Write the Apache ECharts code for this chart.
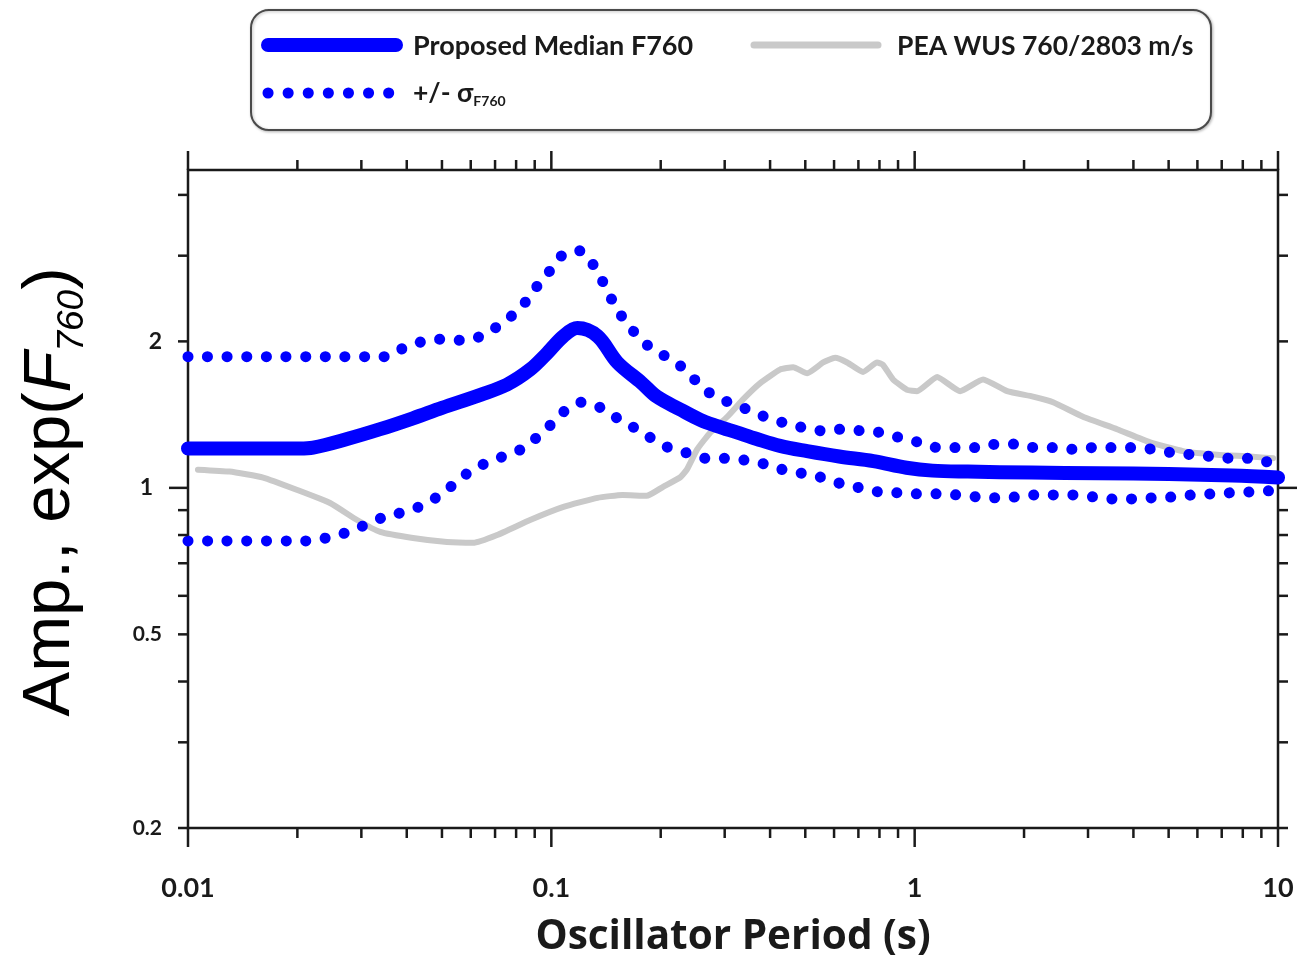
<!DOCTYPE html>
<html>
<head>
<meta charset="utf-8">
<script src="https://cdn.jsdelivr.net/npm/echarts@6/dist/echarts.min.js"></script>
<style>
  html, body { margin: 0; padding: 0; background: #ffffff; }
  #chart { width: 1299px; height: 963px; }
</style>
</head>
<body>
<div id="chart"></div>
<script>
// Oscillator periods (s) and amplitudes, exp(F760)
const periodMedian = [0.01, 0.0148, 0.0203, 0.0221, 0.0274, 0.0338, 0.0416, 0.05, 0.0641, 0.0755, 0.0874, 0.0973, 0.108, 0.118, 0.134, 0.152, 0.177, 0.195, 0.226, 0.257, 0.286, 0.324, 0.368, 0.426, 0.506, 0.62, 0.77, 0.95, 1.12, 1.4, 2.1, 3.2, 5.0, 7.5, 10];
const ampMedian    = [1.205, 1.205, 1.205, 1.21, 1.26, 1.32, 1.39, 1.46, 1.555, 1.63, 1.75, 1.89, 2.05, 2.13, 2.05, 1.81, 1.645, 1.54, 1.45, 1.38, 1.34, 1.30, 1.26, 1.22, 1.19, 1.16, 1.135, 1.10, 1.085, 1.08, 1.075, 1.072, 1.068, 1.06, 1.05];

const periodUpper = [0.01, 0.0349, 0.0393, 0.0444, 0.05, 0.0568, 0.0641, 0.0713, 0.0785, 0.0857, 0.0925, 0.0998, 0.108, 0.12, 0.131, 0.139, 0.147, 0.157, 0.170, 0.186, 0.207, 0.229, 0.252, 0.275, 0.307, 0.346, 0.387, 0.437, 0.493, 0.556, 0.631, 0.712, 0.803, 0.906, 1.028, 1.16, 1.309, 1.485, 1.686, 1.902, 2.145, 2.419, 2.747, 3.117, 3.516, 3.991, 4.532, 5.143, 5.801, 6.585, 7.429, 8.38, 9.512, 10];
const ampUpper    = [1.86, 1.86, 1.94, 2.00, 2.02, 2.01, 2.05, 2.15, 2.27, 2.43, 2.63, 2.81, 3.02, 3.07, 2.86, 2.64, 2.43, 2.24, 2.08, 1.95, 1.86, 1.77, 1.65, 1.56, 1.50, 1.45, 1.40, 1.36, 1.33, 1.31, 1.32, 1.31, 1.30, 1.27, 1.24, 1.21, 1.21, 1.21, 1.23, 1.23, 1.21, 1.21, 1.20, 1.21, 1.21, 1.21, 1.20, 1.18, 1.17, 1.16, 1.15, 1.15, 1.13, 1.13];

const periodLower = [0.01, 0.0213, 0.024, 0.0271, 0.0303, 0.0342, 0.0383, 0.0432, 0.0485, 0.0536, 0.0586, 0.0653, 0.0736, 0.0825, 0.0913, 0.0998, 0.109, 0.1215, 0.137, 0.152, 0.169, 0.187, 0.210, 0.236, 0.267, 0.301, 0.341, 0.385, 0.434, 0.493, 0.556, 0.627, 0.707, 0.798, 0.900, 1.015, 1.16, 1.309, 1.485, 1.675, 1.902, 2.145, 2.419, 2.747, 3.117, 3.516, 3.991, 4.532, 5.143, 5.801, 6.585, 7.429, 8.38, 9.512, 10];
const ampLower    = [0.778, 0.778, 0.789, 0.808, 0.835, 0.868, 0.888, 0.914, 0.958, 1.014, 1.07, 1.12, 1.16, 1.20, 1.27, 1.35, 1.44, 1.50, 1.46, 1.39, 1.33, 1.27, 1.21, 1.18, 1.15, 1.15, 1.14, 1.12, 1.09, 1.07, 1.05, 1.02, 1.00, 0.981, 0.977, 0.972, 0.972, 0.967, 0.958, 0.954, 0.958, 0.967, 0.967, 0.967, 0.958, 0.949, 0.949, 0.954, 0.958, 0.967, 0.972, 0.977, 0.981, 0.986, 0.986];

const periodPEA = [0.01065, 0.013, 0.0161, 0.020, 0.0246, 0.0292, 0.0338, 0.0416, 0.0516, 0.0609, 0.0709, 0.0874, 0.108, 0.134, 0.157, 0.183, 0.203, 0.226, 0.236, 0.252, 0.274, 0.305, 0.337, 0.375, 0.426, 0.463, 0.506, 0.560, 0.604, 0.652, 0.721, 0.788, 0.818, 0.872, 0.953, 1.015, 1.153, 1.334, 1.543, 1.796, 2.118, 2.404, 2.907, 3.606, 4.446, 5.481, 6.798, 8.38, 9.694];
const ampPEA    = [1.09, 1.08, 1.05, 0.99, 0.931, 0.859, 0.812, 0.789, 0.774, 0.771, 0.800, 0.859, 0.914, 0.954, 0.967, 0.963, 1.005, 1.05, 1.09, 1.20, 1.30, 1.40, 1.52, 1.64, 1.75, 1.77, 1.72, 1.81, 1.85, 1.81, 1.73, 1.81, 1.79, 1.67, 1.59, 1.58, 1.69, 1.58, 1.67, 1.58, 1.54, 1.50, 1.40, 1.32, 1.24, 1.19, 1.17, 1.16, 1.15];

// Axis ticks and labels
const xTickValues = [0.01, 0.02, 0.03, 0.04, 0.05, 0.06, 0.07, 0.08, 0.09, 0.1, 0.2, 0.3, 0.4, 0.5, 0.6, 0.7, 0.8, 0.9, 1, 2, 3, 4, 5, 6, 7, 8, 9, 10];
const xMajorValues = [0.01, 0.1, 1, 10];
const xLabelValues = ['0.01', '0.1', '1', '10'];
const yTickValues = [0.2, 0.3, 0.4, 0.5, 0.6, 0.7, 0.8, 0.9, 1, 2, 3, 4];
const yMajorValues = [1];
const yLabelValues = ['0.2', '0.5', '1', '2'];

const X_MIN = 0.01, X_MAX = 10, Y_MIN = 0.2, Y_MAX = 4.5;

const BLUE = '#0000ff';
const GREY = '#c9c9c9';
const INK = '#1a1a1a';
const LABEL_FONT = 'Lato, "Open Sans", sans-serif';
const TITLE_FONT = '"Liberation Sans", Arial, sans-serif';

const zip = (xs, ys) => xs.map((x, i) => [x, ys[i]]);
const tickStyle = { stroke: INK, lineWidth: 2.5 };

// Text measuring, used to place subscripts right after their base text
const measureCtx = document.createElement('canvas').getContext('2d');
function textWidth(str, font) {
  measureCtx.font = font;
  return measureCtx.measureText(str).width;
}

// Lay out a run of text pieces (with their own fonts and baseline drops) left to right
function textRun(pieces, startX, y, fill) {
  let x = startX;
  return pieces.map(p => {
    const el = {
      type: 'text', x: x, y: y + (p.dy || 0),
      style: { text: p.text, font: p.font, fill: fill, align: 'left', verticalAlign: 'middle' }
    };
    x += textWidth(p.text, p.font);
    return el;
  });
}
function runWidth(pieces) {
  return pieces.reduce((s, p) => s + textWidth(p.text, p.font), 0);
}

// Y-axis title: Amp., exp(F_760)
const yTitlePieces = [
  { text: 'Amp., exp(', font: '67px ' + TITLE_FONT },
  { text: 'F', font: 'italic 67px ' + TITLE_FONT },
  { text: '760', font: 'italic 37px ' + TITLE_FONT, dy: 22 },
  { text: ')', font: '67px ' + TITLE_FONT }
];
const yTitleWidth = runWidth(yTitlePieces);

// Legend sigma entry: +/- σ_F760
const sigmaPieces = [
  { text: '+/- σ', font: 'bold 26.5px ' + LABEL_FONT },
  { text: 'F760', font: 'bold 14px ' + LABEL_FONT, dy: 8 }
];

const chart = echarts.init(document.getElementById('chart'), null, { renderer: 'canvas' });

const option = {
  animation: false,
  backgroundColor: '#ffffff',
  grid: {
    left: 188, top: 170, width: 1090, height: 658,
    show: true, borderColor: INK, borderWidth: 2.5, backgroundColor: 'transparent'
  },
  xAxis: {
    type: 'log', logBase: 10, min: X_MIN, max: X_MAX,
    axisLine: { show: false }, axisTick: { show: false },
    axisLabel: { show: false }, splitLine: { show: false }
  },
  yAxis: {
    type: 'log', logBase: 10, min: Y_MIN, max: Y_MAX,
    axisLine: { show: false }, axisTick: { show: false },
    axisLabel: { show: false }, splitLine: { show: false }
  },
  series: [
    {
      name: 'PEA WUS 760/2803 m/s', type: 'line', data: zip(periodPEA, ampPEA),
      showSymbol: false, smooth: 0.15, clip: false, z: 2,
      lineStyle: { color: GREY, width: 6, cap: 'round', join: 'round' }
    },
    {
      name: '+σ', type: 'line', data: zip(periodUpper, ampUpper),
      showSymbol: false, smooth: 0.3, clip: false, z: 3,
      lineStyle: { color: BLUE, width: 11, type: [0.1, 19.5], cap: 'round' }
    },
    {
      name: '-σ', type: 'line', data: zip(periodLower, ampLower),
      showSymbol: false, smooth: 0.3, clip: false, z: 3,
      lineStyle: { color: BLUE, width: 11, type: [0.1, 19.5], cap: 'round' }
    },
    {
      name: 'Proposed Median F760', type: 'line', data: zip(periodMedian, ampMedian),
      showSymbol: false, smooth: 0.35, clip: false, z: 4,
      lineStyle: { color: BLUE, width: 14, cap: 'round', join: 'round' }
    },
    // x ticks on bottom and top edges
    {
      type: 'custom', silent: true, clip: false, z: 6,
      data: xTickValues.map(v => [v, Y_MIN]),
      renderItem: function (params, api) {
        const v = api.value(0);
        const len = xMajorValues.indexOf(v) >= 0 ? 19 : 10;
        const b = api.coord([v, Y_MIN]);
        const t = api.coord([v, Y_MAX]);
        return {
          type: 'group', children: [
            { type: 'line', shape: { x1: b[0], y1: b[1], x2: b[0], y2: b[1] + len }, style: tickStyle },
            { type: 'line', shape: { x1: t[0], y1: t[1], x2: t[0], y2: t[1] - len }, style: tickStyle }
          ]
        };
      }
    },
    // y ticks on left and right edges
    {
      type: 'custom', silent: true, clip: false, z: 6,
      data: yTickValues.map(v => [X_MIN, v]),
      renderItem: function (params, api) {
        const v = api.value(1);
        const len = yMajorValues.indexOf(v) >= 0 ? 19 : 10;
        const l = api.coord([X_MIN, v]);
        const r = api.coord([X_MAX, v]);
        return {
          type: 'group', children: [
            { type: 'line', shape: { x1: l[0], y1: l[1], x2: l[0] - len, y2: l[1] }, style: tickStyle },
            { type: 'line', shape: { x1: r[0], y1: r[1], x2: r[0] + len, y2: r[1] }, style: tickStyle }
          ]
        };
      }
    },
    // x tick labels
    {
      type: 'custom', silent: true, clip: false, z: 6,
      data: xLabelValues.map(s => [Number(s), Y_MIN]),
      renderItem: function (params, api) {
        const p = api.coord([api.value(0), Y_MIN]);
        return {
          type: 'text', x: p[0], y: p[1] + 60,
          style: {
            text: xLabelValues[params.dataIndex], fill: INK,
            font: 'bold 27px ' + LABEL_FONT, align: 'center', verticalAlign: 'middle'
          }
        };
      }
    },
    // y tick labels
    {
      type: 'custom', silent: true, clip: false, z: 6,
      data: yLabelValues.map(s => [X_MIN, Number(s)]),
      renderItem: function (params, api) {
        const v = api.value(1);
        const p = api.coord([X_MIN, v]);
        const len = yMajorValues.indexOf(v) >= 0 ? 19 : 10;
        const size = v >= 1 ? 23 : 21;
        return {
          type: 'text', x: p[0] - len - 16, y: p[1],
          style: {
            text: yLabelValues[params.dataIndex], fill: INK,
            font: 'bold ' + size + 'px ' + LABEL_FONT, align: 'right', verticalAlign: 'middle'
          }
        };
      }
    }
  ],
  graphic: [
    // axis titles
    {
      type: 'text', x: 733, y: 937,
      style: {
        text: 'Oscillator Period (s)', fill: INK,
        font: 'bold 40.5px "Open Sans", Lato, sans-serif', align: 'center', verticalAlign: 'middle'
      }
    },
    {
      type: 'group', x: 51, y: 492, rotation: Math.PI / 2,
      children: textRun(yTitlePieces, -yTitleWidth / 2, 0, '#000000')
    },
    // legend box
    {
      type: 'rect', shape: { x: 251, y: 10, width: 960, height: 120, r: 18 },
      style: { fill: '#ffffff', stroke: '#4a4a4a', lineWidth: 2, shadowBlur: 3, shadowColor: 'rgba(0,0,0,0.25)', shadowOffsetX: 1, shadowOffsetY: 1 }
    },
    {
      type: 'line', shape: { x1: 268, y1: 45, x2: 396, y2: 45 },
      style: { stroke: BLUE, lineWidth: 14, lineCap: 'round' }
    },
    {
      type: 'text', x: 413, y: 46,
      style: { text: 'Proposed Median F760', fill: INK, font: 'bold 27px ' + LABEL_FONT, align: 'left', verticalAlign: 'middle' }
    },
    {
      type: 'line', shape: { x1: 268, y1: 93, x2: 389, y2: 93 },
      style: { stroke: BLUE, lineWidth: 11, lineCap: 'round', lineDash: [0.1, 20] }
    },
    {
      type: 'group', children: textRun(sigmaPieces, 413, 93, INK)
    },
    {
      type: 'line', shape: { x1: 754, y1: 45, x2: 878, y2: 45 },
      style: { stroke: GREY, lineWidth: 7, lineCap: 'round' }
    },
    {
      type: 'text', x: 897, y: 46,
      style: { text: 'PEA WUS 760/2803 m/s', fill: INK, font: 'bold 26.5px ' + LABEL_FONT, align: 'left', verticalAlign: 'middle' }
    }
  ]
};

chart.setOption(option);
</script>
</body>
</html>
